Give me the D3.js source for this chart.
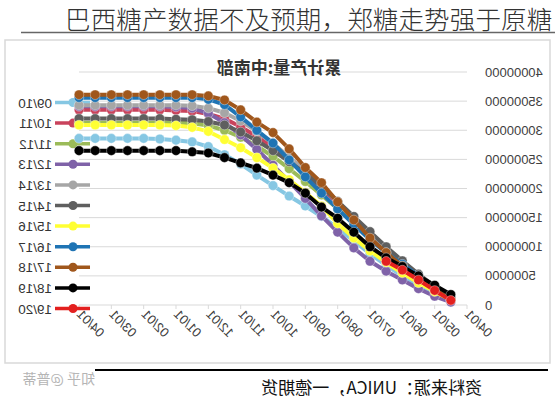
<!DOCTYPE html>
<html><head><meta charset="utf-8">
<script src="https://cdn.jsdelivr.net/npm/d3@7"></script>
<style>
html,body{margin:0;padding:0;background:#fff;}
svg{display:block;}
</style></head>
<body>
<script>
// Values in million tonnes (cumulative sugar production, Centre-South Brazil)
const pointDates = ["04/16","05/01","05/16","06/01","06/16","07/01","07/16","08/01","08/16","09/01","09/16","10/01",
                    "10/16","11/01","11/16","12/01","12/16","01/01","01/16","02/01","02/16","03/01","03/16","04/01"];
const tickLabels = ["04/01","05/01","06/01","07/01","08/01","09/01","10/01","11/01","12/01","01/01","02/01","03/01","04/01"];
const yTicks = [0,5,10,15,20,25,30,35,40];
const seasons = ["09/10","10/11","11/12","12/13","13/14","14/15","15/16","16/17","17/18","18/19","19/20"];
const colors  = ["#86c7e3","#c9435c","#9bbb59","#7f62a8","#a6a6a6","#5f5f5f","#ffff33","#1f74b4","#a0571c","#000000","#e3201f"];

const s0910 = [0.8,1.9,3.3,5.0,6.8,8.8,11.0,13.2,15.2,17.0,18.7,20.5,22.3,24.2,25.8,27.2,28.0,28.3,28.5,28.6,28.6,28.6,28.6,28.6];
const s1011 = [1.2,2.9,4.9,7.1,9.6,12.2,14.9,17.5,20.1,22.6,24.9,27.0,28.9,30.6,32.0,32.8,33.3,33.4,33.5,33.5,33.5,33.5,33.5,33.5];
const s1112 = [1.1,2.7,4.6,6.7,9.0,11.5,14.0,16.5,18.9,21.2,23.4,25.5,27.3,28.8,30.0,30.8,31.2,31.3,31.3,31.3,31.3,31.3,31.3,31.3];
const s1213 = [0.5,1.5,2.8,4.3,5.8,7.5,9.8,12.5,15.3,18.3,21.2,24.0,26.7,29.2,31.3,32.9,33.8,34.0,34.1,34.1,34.1,34.1,34.1,34.1];
const s1314 = [1.2,3.0,5.0,7.2,9.7,12.3,15.0,17.7,20.4,23.0,25.4,27.7,29.8,31.6,33.0,33.8,34.2,34.3,34.3,34.3,34.3,34.3,34.3,34.3];
const s1415 = [1.3,3.2,5.3,7.6,10.0,12.6,15.2,17.8,20.3,22.6,24.6,26.5,28.2,29.7,30.9,31.5,31.8,31.9,32.0,32.0,32.0,32.0,32.0,32.0];
const s1516 = [0.9,2.3,3.8,5.5,7.3,9.3,11.5,14.0,17.0,19.3,21.5,23.5,25.3,27.0,28.4,29.8,30.5,30.8,30.9,30.9,30.9,30.9,30.9,30.9];
const s1617 = [1.2,2.9,5.0,7.0,9.0,11.2,13.8,16.5,19.2,22.0,24.9,27.8,30.0,32.3,34.4,35.3,35.6,35.6,35.6,35.6,35.6,35.6,35.6,35.6];
const s1718 = [1.0,2.7,4.6,6.7,9.0,11.5,14.6,17.7,21.0,23.6,26.8,29.6,31.4,33.5,35.2,35.9,36.1,36.1,36.1,36.1,36.1,36.1,36.1,36.1];
const s1819 = [1.8,3.4,5.0,6.6,8.1,10.0,12.5,14.9,16.8,19.2,21.0,22.3,23.5,24.4,25.3,26.1,26.3,26.5,26.5,26.5,26.5,26.5,26.5,26.5];
const s1920 = [0.8,2.5,4.3,6.0,7.5];
const seriesValues = [s0910,s1011,s1112,s1213,s1314,s1415,s1516,s1617,s1718,s1819,s1920];

const W = 555, H = 400;
const svg = d3.select("body").append("svg").attr("width", W).attr("height", H);

// page title (not mirrored)
svg.append("text").attr("x", 65).attr("y", 29)
  .attr("font-family", "Noto Sans CJK SC").attr("font-weight", 300).attr("font-size", 25.5)
  .attr("letter-spacing", 0.15).attr("fill", "#333")
  .text("巴西糖产数据不及预期，郑糖走势强于原糖");
svg.append("line").attr("x1", 21).attr("x2", 555).attr("y1", 32.5).attr("y2", 32.5)
  .attr("stroke", "#666").attr("stroke-width", 1.5);

// mirrored chart image
const g = svg.append("g").attr("transform", `translate(${W},0) scale(-1,1)`);

g.append("rect").attr("x", 5).attr("y", 40).attr("width", 545).attr("height", 323)
  .attr("fill", "#fff").attr("stroke", "#d9d9d9").attr("stroke-width", 1.5);

const x = d3.scaleLinear().domain([0, 24]).range([88, 476]);
const y = d3.scaleLinear().domain([0, 40]).range([305, 72]);

// gridlines
g.append("g").selectAll("line").data(yTicks.slice(1)).join("line")
  .attr("x1", 88).attr("x2", 476).attr("y1", d => y(d)).attr("y2", d => y(d))
  .attr("stroke", "#d9d9d9").attr("stroke-width", 1);

// y axis labels
g.append("g").selectAll("text").data(yTicks).join("text")
  .attr("x", 70).attr("y", d => y(d) + 4.5).attr("text-anchor", "end")
  .attr("font-family", "Liberation Sans, Arial").attr("font-size", 13).attr("fill", "#404040")
  .text(d => String(d * 1000000));

// x axis
g.append("line").attr("x1", 88).attr("x2", 476).attr("y1", y(0)).attr("y2", y(0))
  .attr("stroke", "#d9d9d9").attr("stroke-width", 1);
g.append("g").selectAll("line").data(tickLabels).join("line")
  .attr("x1", (d, i) => x(i * 2)).attr("x2", (d, i) => x(i * 2))
  .attr("y1", y(0)).attr("y2", y(0) + 4).attr("stroke", "#d9d9d9");
g.append("g").selectAll("text").data(tickLabels).join("text")
  .attr("transform", (d, i) => `translate(${x(i * 2) + 3},${y(0) + 10}) rotate(-45)`)
  .attr("text-anchor", "end")
  .attr("font-family", "Liberation Sans, Arial").attr("font-size", 13).attr("fill", "#404040")
  .text(d => d);

// chart title
g.append("text").attr("x", 276).attr("y", 74).attr("text-anchor", "middle")
  .attr("font-family", "Noto Sans CJK SC").attr("font-weight", "bold").attr("font-size", 17).attr("fill", "#333")
  .text("累计产量:中南部");

// legend
const lg = g.append("g");
seasons.forEach((s, k) => {
  const ly = 102.5 + k * 20.6;
  lg.append("line").attr("x1", 465).attr("x2", 500).attr("y1", ly).attr("y2", ly)
    .attr("stroke", colors[k]).attr("stroke-width", 3.5);
  lg.append("circle").attr("cx", 482).attr("cy", ly).attr("r", 4.5).attr("fill", colors[k]);
  lg.append("text").attr("x", 503).attr("y", ly + 5)
    .attr("font-family", "Liberation Sans, Arial").attr("font-size", 13.5).attr("fill", "#333")
    .text(s);
});

// series
const line = d3.line().x((d, i) => x(i + 1)).y(d => y(d));
seasons.forEach((s, k) => {
  const vals = seriesValues[k];
  const sg = g.append("g");
  sg.append("path").attr("d", line(vals)).attr("fill", "none")
    .attr("stroke", colors[k]).attr("stroke-width", 4).attr("stroke-linejoin", "round");
  sg.selectAll("circle").data(vals).join("circle")
    .attr("cx", (d, i) => x(i + 1)).attr("cy", d => y(d)).attr("r", 4.8)
    .attr("fill", colors[k]).attr("stroke", "#fff").attr("stroke-width", 0.6).attr("stroke-opacity", 0.6);
});

// source line and text
g.append("line").attr("x1", 7).attr("x2", 460).attr("y1", 370).attr("y2", 370)
  .attr("stroke", "#000").attr("stroke-width", 2.2);
g.append("text").attr("x", 73).attr("y", 394)
  .attr("font-family", "Noto Sans CJK SC").attr("font-size", 17).attr("fill", "#111")
  .text("资料来源：UNICA，一德期货");
g.append("text").attr("x", 460).attr("y", 384)
  .attr("font-family", "Noto Sans CJK SC").attr("font-size", 14).attr("fill", "#b5b5b5")
  .text("知乎 @普蒂");
</script>
</body></html>
